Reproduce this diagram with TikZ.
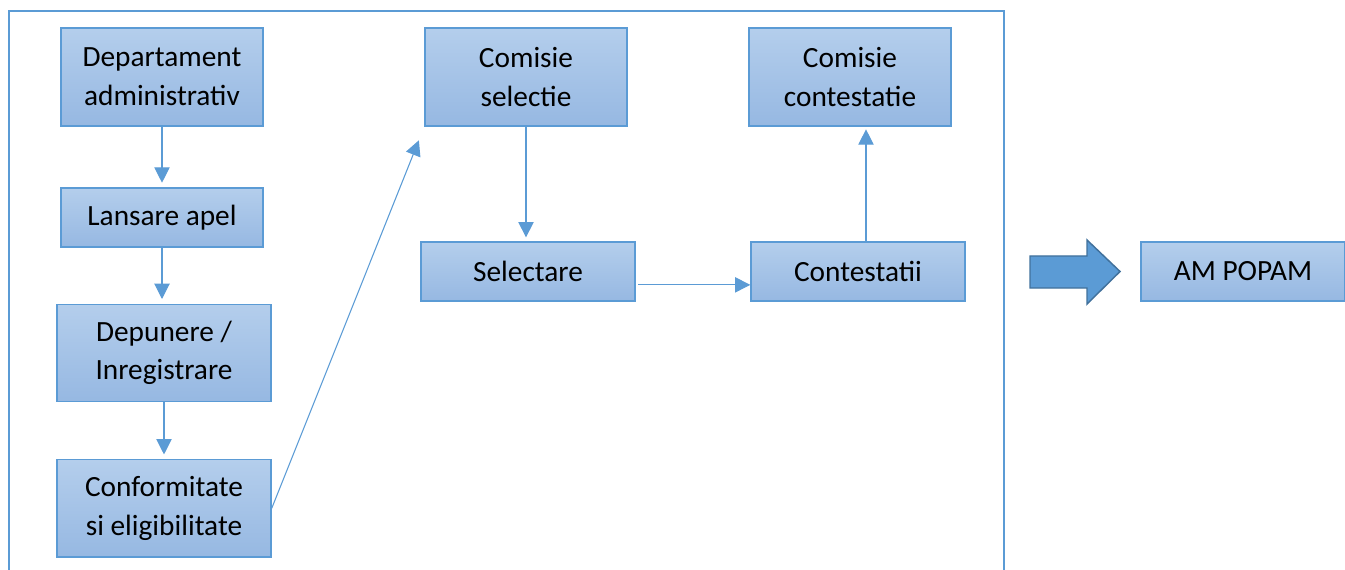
\documentclass[tikz,border=0pt]{standalone}
\usepackage{fontspec}
\setmainfont{Carlito}
\usepackage{tikz}
\usetikzlibrary{arrows.meta}
\definecolor{officeblue}{RGB}{91,155,213}
\definecolor{officedark}{RGB}{65,113,156}
\definecolor{boxtop}{RGB}{180,206,236}
\definecolor{boxbottom}{RGB}{150,184,226}
\tikzstyle{step box} = [rectangle, draw=officeblue, line width=1pt, top color=boxtop, bottom color=boxbottom, text centered, align=center, inner sep=0pt, font=\fontsize{22pt}{29pt}\selectfont]
\tikzstyle{tall} = [step box, minimum width=151.5pt, minimum height=73.5pt]
\tikzstyle{tallwide} = [step box, minimum width=160.5pt, minimum height=73pt]
\tikzstyle{flat} = [step box, minimum width=151.5pt, minimum height=44.25pt]
\tikzstyle{flatwide} = [step box, minimum width=160.5pt, minimum height=44.25pt]
\tikzstyle{arrow} = [officeblue, line width=0.8pt, -{Triangle[width=11.5pt,length=11.5pt]}]
\begin{document}
\begin{tikzpicture}[x=0.75pt, y=-0.75pt, node distance=100pt]
        \useasboundingbox (0,0) rectangle (1345,570);
        \begin{scope}
        \clip (0,0) rectangle (1345,570);
        \draw [officeblue, line width=1.5pt] (9,590) |- (1004,11) -- (1004,590);
        \end{scope}
        \node (dept) [tall] at (162,77) {Departament\\administrativ};
        \node (lansare) [flat, below of=dept, yshift=-5.4pt] {Lansare apel};
        \node (depunere) [tallwide, below of=lansare, xshift=1.5pt, yshift=-1.6pt] {Depunere /\\Inregistrare};
        \node (conform) [tallwide, below of=depunere, yshift=-16.6pt] {Conformitate\\si eligibilitate};
        \node (selcom) [tall, right of=dept, xshift=173pt] {Comisie\\selectie};
        \node (selectare) [flatwide, below of=selcom, xshift=1.5pt, yshift=-45.9pt] {Selectare};
        \node (contcom) [tall, right of=selcom, xshift=143pt] {Comisie\\contestatie};
        \node (contestatii) [flatwide, below of=contcom, xshift=6pt, yshift=-45.9pt] {Contestatii};
        \node (am) [step box, minimum width=153pt, minimum height=44.25pt, right of=contestatii, xshift=188.75pt] {AM POPAM};
        \draw [arrow, shorten >=3.5pt] (dept) -- (dept |- lansare.north);
        \draw [arrow, shorten >=3.5pt] (lansare) -- (lansare |- depunere.north);
        \draw [arrow, shorten >=3.5pt] (depunere) -- (depunere |- conform.north);
        \draw [arrow, shorten >=11pt] (conform.east) -- (selcom.south west);
        \draw [arrow, shorten >=3pt] (selcom) -- (selcom |- selectare.north);
        \draw [arrow, shorten <=2pt] ([yshift=-10pt]selectare.east) -- ([yshift=-10pt]selectare.east -| contestatii.west);
        \draw [arrow, shorten >=2pt] ([xshift=6pt]contestatii.north) -- ([xshift=6pt]contestatii.north |- contcom.south);
        % big arrow towards the managing authority
        \draw [fill=officeblue, draw=officedark, line width=1.1pt] (1030,256) -- (1087,256) -- (1087,240) -- (1120,271.5) -- (1087,304) -- (1087,288) -- (1030,288) -- cycle;
\end{tikzpicture}
\end{document}
